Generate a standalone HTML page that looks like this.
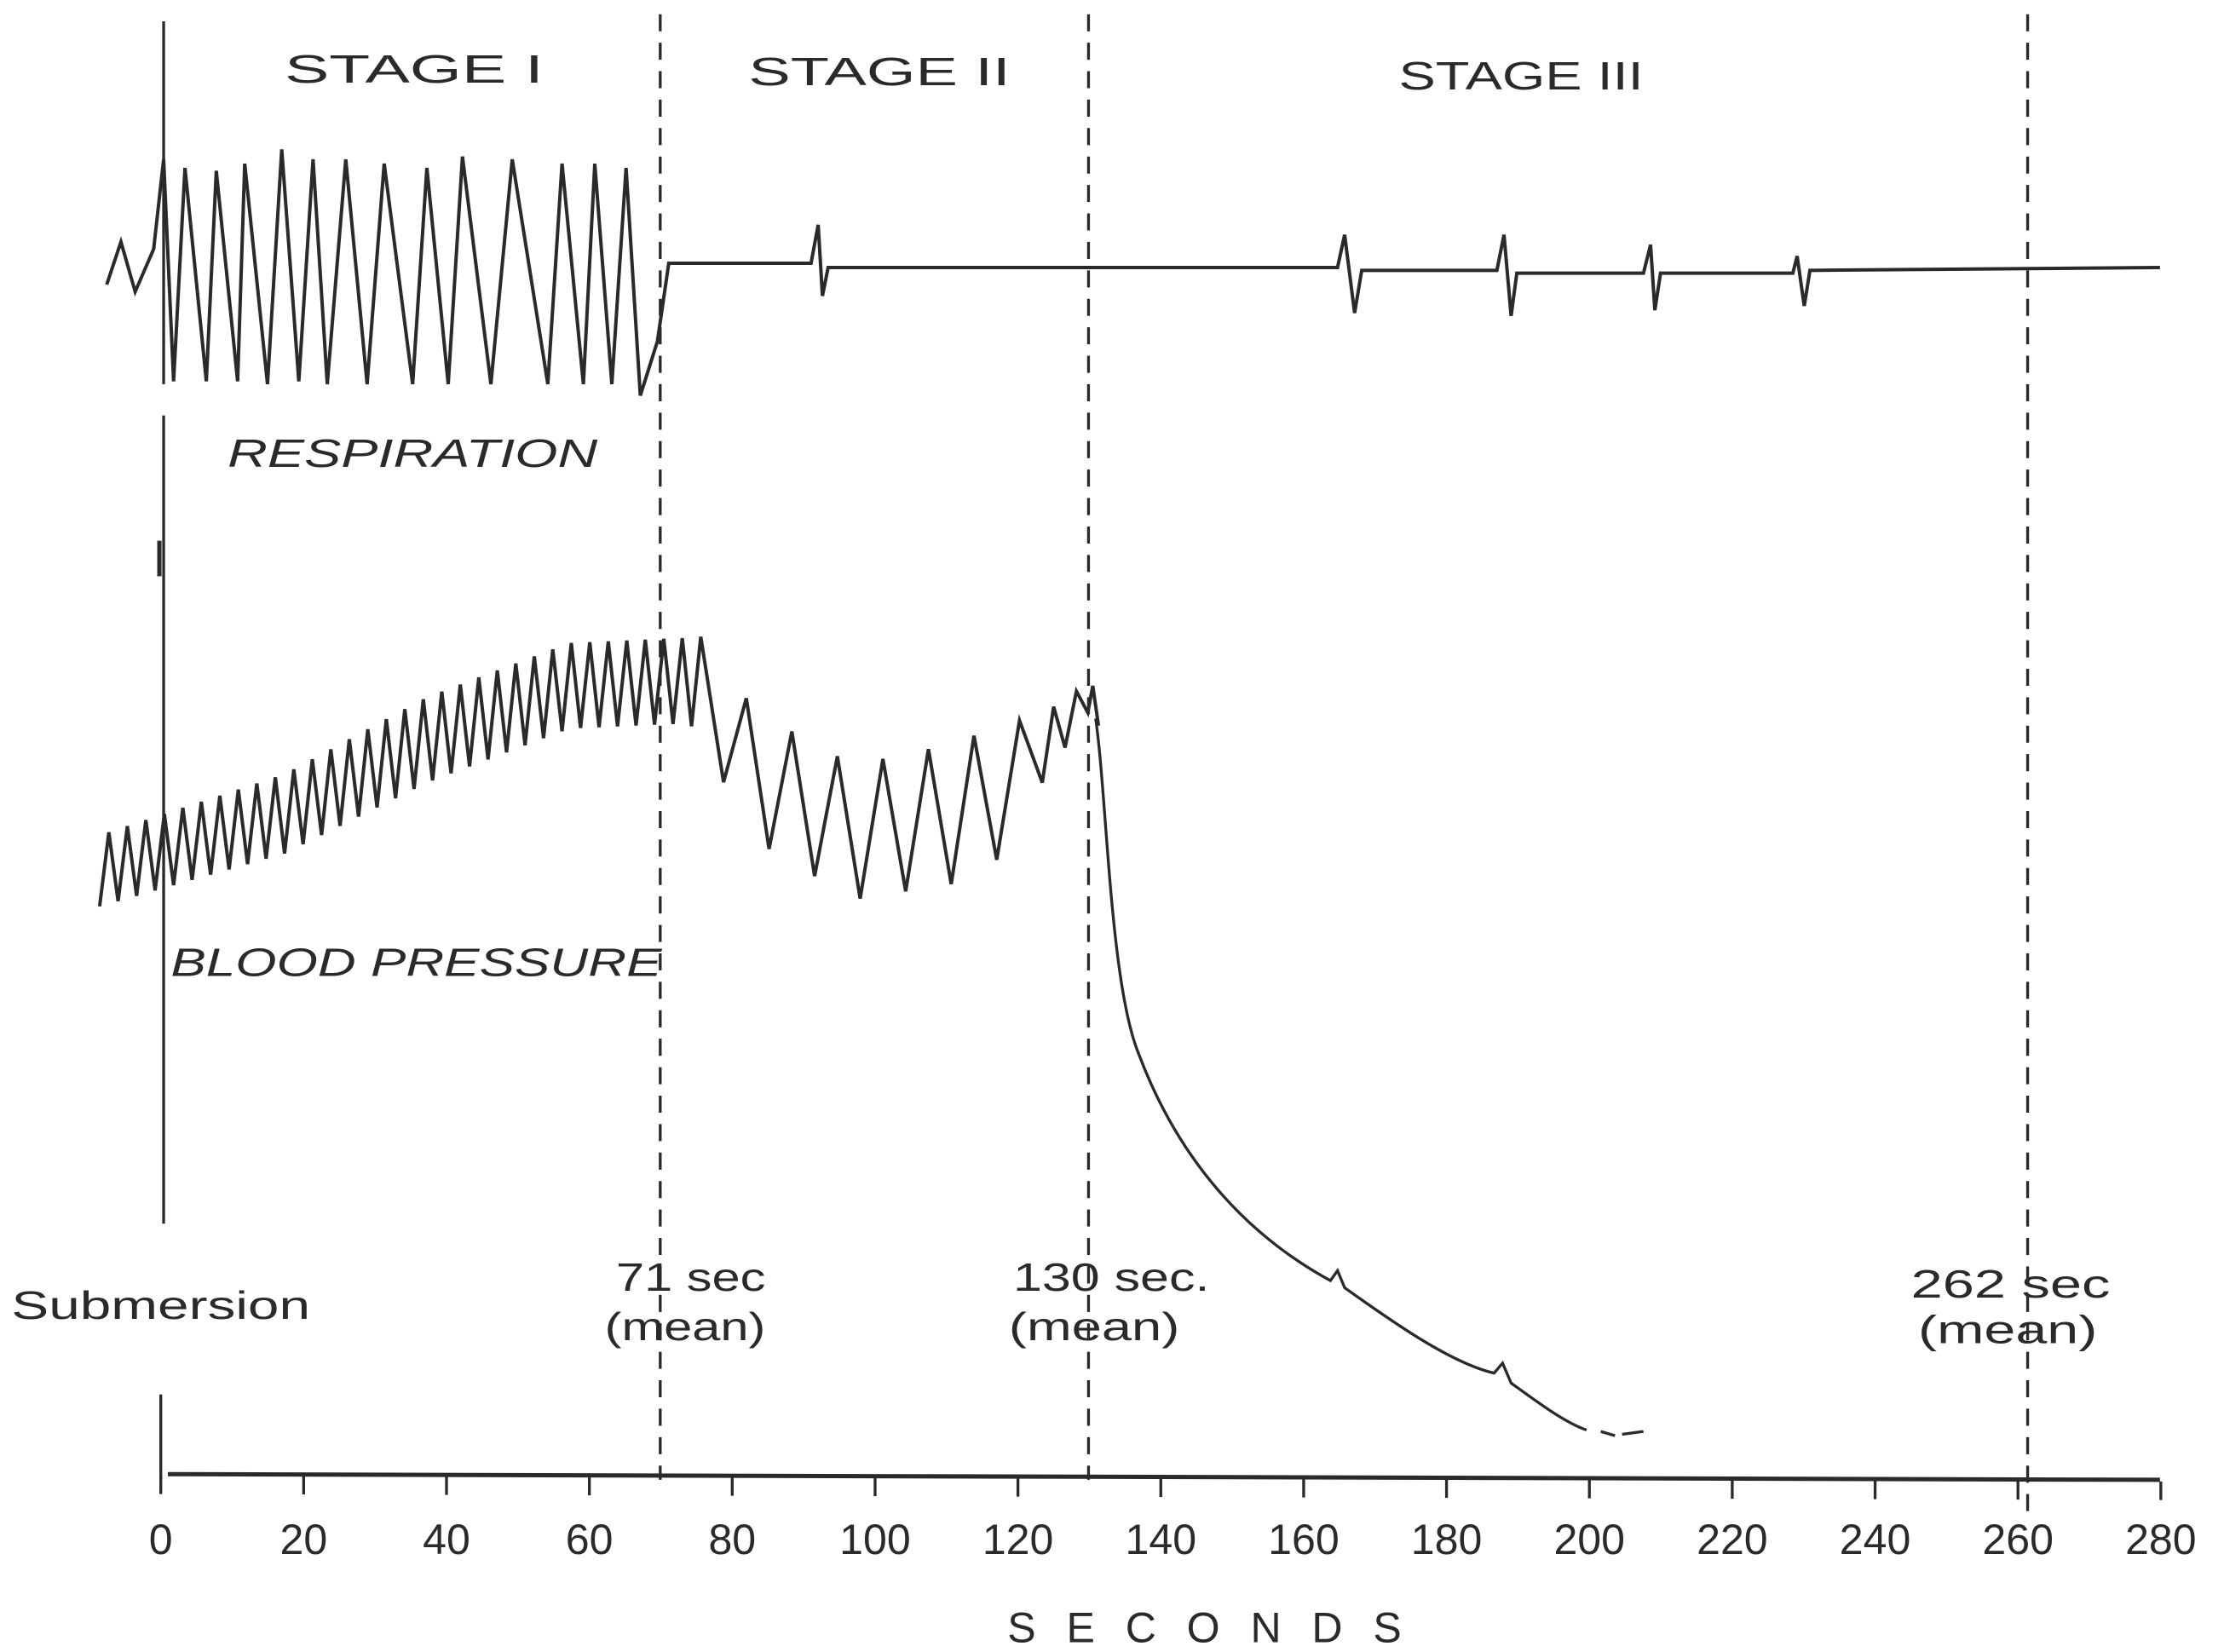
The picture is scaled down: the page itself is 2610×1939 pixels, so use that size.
<!DOCTYPE html>
<html><head><meta charset="utf-8"><style>
html,body{margin:0;padding:0;background:#fff;}
svg{display:block;}
text{font-family:"Liberation Sans",sans-serif;fill:#2a2a2a;}
</style></head><body>
<svg id="s" width="2610" height="1939" viewBox="0 0 1563 1161" preserveAspectRatio="none" xmlns="http://www.w3.org/2000/svg">
<g stroke="#2a2a2a" fill="none" stroke-width="2">
<path d="M115,15V270 M115,292V860 M113,980V1040"/>
<path d="M112,380V405" stroke-width="3"/>
<g stroke-dasharray="12,8">
<path d="M464,10V1040"/><path d="M765,10V1040"/><path d="M1425,10V1062"/>
</g>
<path d="M118,1036 L1518,1040" stroke-width="3"/>
<path id="ticks" d="" stroke-width="2"/>
<path id="resp" d="" stroke-width="2.4"/>
<path id="bp" d="" stroke-width="2.4"/>
<path d="M770,505 C778,560 780,690 800,740 C830,820 880,870 935,900 L940,893 L945,905 C980,930 1020,958 1050,965 L1056,958 L1062,972 C1080,985 1100,1000 1115,1005 M1125,1006 L1135,1009 M1140,1008 L1155,1006" stroke-width="2"/>
</g>
<g font-size="28">
<text x="200" y="58" textLength="182" lengthAdjust="spacingAndGlyphs">STAGE I</text>
<text x="526" y="60" textLength="184" lengthAdjust="spacingAndGlyphs">STAGE II</text>
<text x="983" y="63" textLength="172" lengthAdjust="spacingAndGlyphs">STAGE III</text>
</g>
<g font-size="28" font-style="italic">
<text x="160" y="328" textLength="260" lengthAdjust="spacingAndGlyphs">RESPIRATION</text>
<text x="120" y="686" textLength="345" lengthAdjust="spacingAndGlyphs">BLOOD PRESSURE</text>
</g>
<g font-size="28">
<text x="8" y="927" textLength="210" lengthAdjust="spacingAndGlyphs">Submersion</text>
<text x="433" y="907" textLength="105" lengthAdjust="spacingAndGlyphs">71 sec</text><text x="425" y="942" textLength="113" lengthAdjust="spacingAndGlyphs">(mean)</text>
<text x="712" y="907" textLength="138" lengthAdjust="spacingAndGlyphs">130 sec.</text><text x="709" y="942" textLength="120" lengthAdjust="spacingAndGlyphs">(mean)</text>
<text x="1343" y="912" textLength="140" lengthAdjust="spacingAndGlyphs">262 sec</text><text x="1348" y="944" textLength="126" lengthAdjust="spacingAndGlyphs">(mean)</text>
</g>
<g id="lbl" font-size="30" text-anchor="middle"></g>
<text x="708" y="1154" font-size="30" textLength="277" lengthAdjust="spacing">SECONDS</text>
</svg>
<script>
var ns="http://www.w3.org/2000/svg";
function X(t){return 113+5.02*t;}
var tk="",g=document.getElementById("lbl");
for(var i=0;i<=14;i++){var x=X(i*20);tk+="M"+x+","+(1037+i*0.3)+"V"+(1050+i*0.3)+" ";
var t=document.createElementNS(ns,"text");t.setAttribute("x",x);t.setAttribute("y",1092);t.textContent=i*20;g.appendChild(t);}
document.getElementById("ticks").setAttribute("d",tk);
document.getElementById("resp").setAttribute("d","M75,200 L85,170 L95,205 L108,175 L115,112 L122,268 L130,118 L145,268 L152,120 L167,268 L172,115 L188,270 L198,105 L210,268 L220,112 L230,270 L243,112 L258,270 L270,115 L290,270 L300,118 L315,270 L325,110 L345,270 L360,112 L385,270 L395,115 L410,270 L418,115 L430,270 L440,118 L450,278 L462,240 L470,185 L570,185 L575,158 L578,208 L582,188 L940,188 L945,165 L952,220 L957,190 L1052,190 L1057,165 L1062,222 L1066,192 L1155,192 L1160,172 L1163,218 L1167,192 L1260,192 L1263,180 L1268,215 L1272,190 L1518,188");
function lerp(pts,x){for(var i=0;i<pts.length-1;i++){if(x<=pts[i+1][0]){var a=pts[i],b=pts[i+1];return a[1]+(b[1]-a[1])*(x-a[0])/(b[0]-a[0]);}}return pts[pts.length-1][1];}
var C=[[70,612],[200,572],[300,520],[400,482],[490,478],[530,545],[600,585],[680,570],[720,540],[765,490]];
var A=[[70,25],[300,30],[480,30],[520,45],[700,50],[730,25],[765,10]];
var d="",x=70,up=false;
while(x<765){var c=lerp(C,x),a=lerp(A,x);d+=(d?"L":"M")+x.toFixed(1)+","+(c+(up?-a:a)).toFixed(1)+" ";
var step=x<490?6.5:(x<720?16:8);x+=step;up=!up;}
d+="L768,482 L772,510";
document.getElementById("bp").setAttribute("d",d);
</script>
</body></html>
